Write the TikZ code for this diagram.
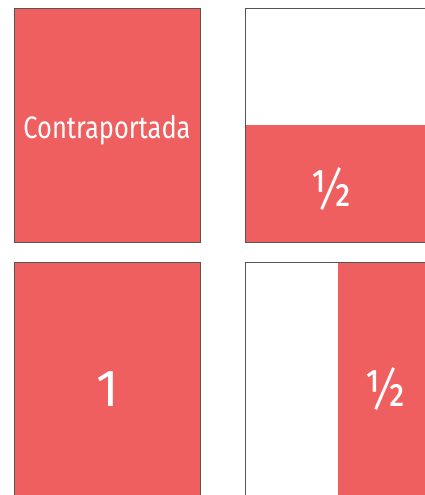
\documentclass[tikz,border=0pt]{standalone}
\usepackage{fontspec}
\setmainfont{Fira Sans}
\definecolor{pagered}{HTML}{F05F60}
\definecolor{frame}{HTML}{555555}
\begin{document}
\begin{tikzpicture}[x=1pt,y=-1pt,
  panel/.style={draw=frame,line width=0.9pt},
  redfill/.style={fill=pagered},
  lbl/.style={text=white,inner sep=0pt}]
\useasboundingbox (0,0) rectangle (424,495);
% panel 1
\fill[redfill] (14,8) rectangle (200,242);
\draw[panel] (14,8) rectangle (200,242);
\node[lbl,font=\fontsize{31}{32}\selectfont] (contra) at (107,130) {\scalebox{0.82}[1]{Contraportada}};
% panel 2
\fill[redfill] (245,125) rectangle (430,242);
\draw[panel] (430,8) -- (245,8) -- (245,242) -- (430,242);
\node[lbl,font=\fontsize{52}{52}\selectfont] (halfA) at (331,189) {\scalebox{0.85}[1]{½}};
% panel 3
\fill[redfill] (14,262) rectangle (200,500);
\draw[panel] (14,500) -- (14,262) -- (200,262) -- (200,500);
\node[lbl,font=\fontsize{52}{52}\selectfont] (one) at (108,389) {1};
% panel 4
\fill[redfill] (338,262) rectangle (430,500);
\draw[panel] (430,262) -- (245,262) -- (245,500);
\node[lbl,font=\fontsize{52}{52}\selectfont] (halfB) at (385,389) {\scalebox{0.85}[1]{½}};
\end{tikzpicture}
\end{document}
